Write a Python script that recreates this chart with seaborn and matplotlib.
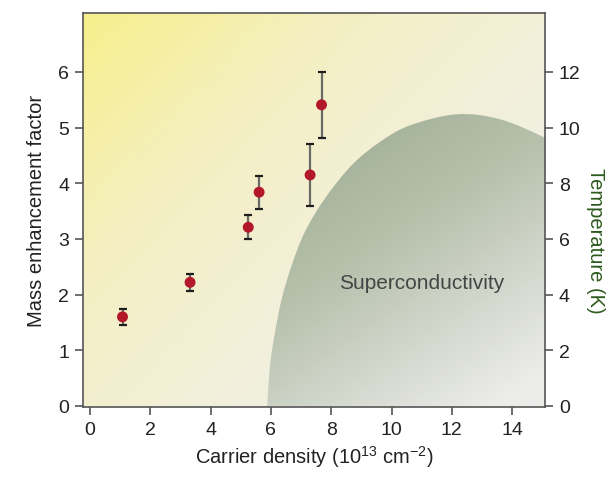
import numpy as np
import pandas as pd
import matplotlib
matplotlib.use("Agg")
import matplotlib.pyplot as plt
from matplotlib.colors import LinearSegmentedColormap
from matplotlib.patches import PathPatch
from matplotlib.path import Path
import seaborn as sns

# ---- data ----
carrier_density = [1.08, 3.32, 5.25, 5.61, 7.30, 7.68]
mass_enhancement = [1.60, 2.22, 3.21, 3.84, 4.15, 5.41]
mass_err = [0.15, 0.155, 0.22, 0.295, 0.56, 0.595]

# superconducting dome boundary (carrier density, Tc in K)
dome_n = [5.88, 5.97, 6.14, 6.36, 6.69, 7.13, 7.79, 8.68, 9.62, 10.61, 12.16, 13.6, 15.09, 15.8]
dome_T = [0.0, 1.45, 2.66, 3.85, 5.05, 6.26, 7.45, 8.65, 9.49, 10.08, 10.48, 10.30, 9.63, 9.1]

x_ticks = [0, 2, 4, 6, 8, 10, 12, 14]
left_ticks = [0, 1, 2, 3, 4, 5, 6]
right_ticks = [0, 2, 4, 6, 8, 10, 12]

sns.set_theme(style="white")
plt.rcParams['font.family'] = ['Liberation Sans', 'DejaVu Sans']
plt.rcParams['mathtext.fontset'] = 'custom'
plt.rcParams['mathtext.rm'] = 'Liberation Sans'
plt.rcParams['mathtext.it'] = 'Liberation Sans:italic'
plt.rcParams['mathtext.bf'] = 'Liberation Sans:bold'

W, H = 614, 481
fig = plt.figure(figsize=(W / 100, H / 100), dpi=100)
ax = fig.add_axes([83 / W, 1 - 408 / H, (545 - 83) / W, (408 - 14) / H])

xlim = (-0.23, 15.09)
ylim = (-0.02, 7.06)
ax.set_xlim(*xlim)
ax.set_ylim(*ylim)

# background gradient (diagonal: yellow top-left -> pale grey bottom-right)
ny, nx = 200, 200
u = np.linspace(0, 1, nx)[None, :]
v = np.linspace(0, 1, ny)[:, None]  # 0 at top
t = np.clip((u * 0.55 + v * 0.45), 0, 1)
bg_cmap = LinearSegmentedColormap.from_list(
    "bg", [(0.0, "#f7ef8c"), (0.3, "#f4efc2"), (0.6, "#f2f0dc"), (1.0, "#efefed")])
ax.imshow(bg_cmap(t), extent=[xlim[0], xlim[1], ylim[0], ylim[1]], aspect="auto",
          origin="upper", zorder=0, interpolation="bilinear")

# dome outline: smooth Bezier (Catmull-Rom) path through the read points
P = np.column_stack([dome_n, [T / 2.0 for T in dome_T]])
verts = [tuple(P[0])]
codes = [Path.MOVETO]
n = len(P)
for i in range(n - 1):
    p0 = P[i - 1] if i > 0 else P[i]
    p1 = P[i]
    p2 = P[i + 1]
    p3 = P[i + 2] if i + 2 < n else P[i + 1]
    c1 = p1 + (p2 - p0) / 6.0
    c2 = p2 - (p3 - p1) / 6.0
    verts += [tuple(c1), tuple(c2), tuple(p2)]
    codes += [Path.CURVE4] * 3
verts += [(P[-1][0], 0.0), (P[0][0], 0.0), (0, 0)]
codes += [Path.LINETO, Path.LINETO, Path.CLOSEPOLY]
dome_path = Path(verts, codes)
patch = PathPatch(dome_path, facecolor="none", edgecolor="none", transform=ax.transData)
ax.add_patch(patch)

dome_cmap = LinearSegmentedColormap.from_list(
    "dome", [(0.0, "#a0ae95"), (0.4, "#b6c0ab"), (1.0, "#ececea")])
x0, x1, y0, y1 = 5.8, 15.8, -0.05, 5.3
td = np.clip(0.5 * u + 0.75 * v - 0.12, 0, 1)
im = ax.imshow(dome_cmap(td), extent=[x0, x1, y0, y1], aspect="auto", origin="upper",
               zorder=1, interpolation="bilinear")
im.set_clip_path(patch)

ax.text(11.0, 4.44 / 2.0, "Superconductivity", ha="center", va="center",
        fontsize=15, color="#454545", zorder=3)

# error bars: grey stems, dark caps
ax.errorbar(carrier_density, mass_enhancement, yerr=mass_err, fmt="none",
            ecolor="#6a6a66", elinewidth=1.6, capsize=0, zorder=4)
ax.errorbar(carrier_density, mass_enhancement, yerr=mass_err, fmt="none",
            ecolor="#1e1e1e", elinewidth=0, capsize=3.2, capthick=1.6, zorder=4)

df = pd.DataFrame({"n": carrier_density, "m": mass_enhancement})
sns.scatterplot(data=df, x="n", y="m", ax=ax, color="#b3172a", s=62,
                edgecolor="none", zorder=5, legend=False)

ax.set_xticks(x_ticks)
ax.set_yticks(left_ticks)
ax.set_xlabel("Carrier density (10$^{13}$ cm$^{\u22122}$)", fontsize=14.5, color="#222222", labelpad=4)
ax.set_ylabel("Mass enhancement factor", fontsize=14.5, color="#222222", labelpad=9)

for s in ax.spines.values():
    s.set_color("#555555")
    s.set_linewidth(1.2)
    s.set_visible(True)
ax.tick_params(axis="both", direction="out", length=6, width=1.2, color="#555555",
               labelsize=14, labelcolor="#222222", left=True, bottom=True, pad=4)

ax2 = ax.twinx()
ax2.set_ylim(ylim[0] * 2, ylim[1] * 2)
ax2.set_yticks(right_ticks)
ax2.tick_params(axis="y", direction="out", length=6, width=1.2, color="#555555",
                labelsize=14, labelcolor="#222222", right=True, pad=4)
for s in ax2.spines.values():
    s.set_visible(False)
ax2.set_ylabel("Temperature (K)", fontsize=14.5, color="#2c5a1c", rotation=-90,
               va="center", ha="center")
ax2.yaxis.set_label_coords((595 - 83) / 462, (408 - 241) / 394)
ax2.grid(False)
ax.grid(False)

fig.savefig("out.png", dpi=100)
